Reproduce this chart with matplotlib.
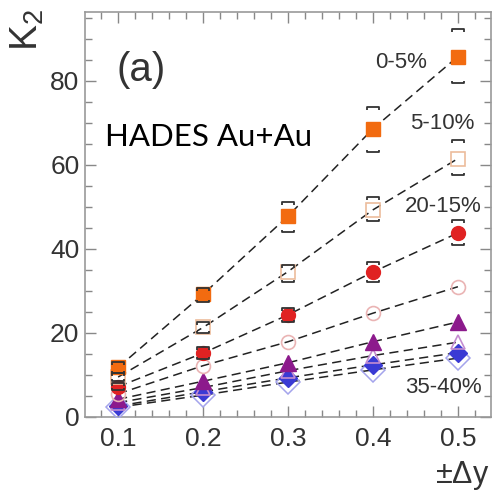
import numpy as np
import matplotlib
matplotlib.use('Agg')
import matplotlib.pyplot as plt
from matplotlib.path import Path
from matplotlib.ticker import MultipleLocator

plt.rcParams['font.family'] = ['Liberation Sans', 'DejaVu Sans']

# rapidity window half-widths
dy = [0.1, 0.2, 0.3, 0.4, 0.5]

# K2 per centrality class
k2_0_5 = [11.8, 29.2, 47.8, 68.6, 85.8]
k2_5_10 = [9.5, 21.3, 34.6, 49.3, 61.5]
k2_10_15 = [7.2, 15.2, 24.3, 34.5, 43.8]
k2_15_20 = [5.5, 12.2, 17.9, 24.7, 31.0]
k2_20_25 = [4.2, 8.5, 12.9, 17.9, 22.6]
k2_25_30 = [3.4, 7.0, 11.0, 14.6, 17.8]
k2_30_35 = [2.6, 6.0, 9.3, 12.4, 15.3]
k2_35_40 = [2.3, 5.2, 8.3, 11.2, 14.0]

# systematic uncertainty brackets (lower, upper)
sys_0_5_lo = [10.5, 27.4, 44.0, 63.0, 79.5]
sys_0_5_hi = [13.0, 30.7, 51.2, 73.8, 92.4]
sys_5_10_lo = [8.6, 20.0, 32.1, 46.6, 57.6]
sys_5_10_hi = [10.4, 22.6, 36.2, 52.4, 66.0]
sys_10_15_lo = [6.5, 13.9, 22.6, 32.1, 41.0]
sys_10_15_hi = [8.0, 16.7, 26.0, 36.9, 46.9]

labels = ['0-5%', '5-10%', '20-15%', '35-40%']
label_x = [0.4635, 0.52, 0.528, 0.528]
label_y = [84.3, 69.9, 50.0, 7.1]

series = [
    (k2_0_5, dict(marker='s', ms=10, mfc='#f26b10', mec='#f26b10')),
    (k2_5_10, dict(marker='s', ms=10, mfc='none', mec='#ecbc9c', mew=1.2)),
    (k2_10_15, dict(marker='o', ms=10, mfc='#e02222', mec='#e02222')),
    (k2_15_20, dict(marker='o', ms=10, mfc='none', mec='#eab4b4', mew=1.2)),
    (k2_20_25, dict(marker='^', ms=11, mfc='#8c1a8c', mec='#8c1a8c')),
    (k2_25_30, dict(marker='^', ms=10, mfc='none', mec='#c48cd0', mew=1.2)),
    (k2_30_35, dict(marker='D', ms=9, mfc='#3a3ad4', mec='#3a3ad4')),
    (k2_35_40, dict(marker='D', ms=12, mfc='none', mec='#a4a4ec', mew=1.1)),
]

top_cap = Path([(-1, -0.4), (-1, 0), (1, 0), (1, -0.4)],
               [Path.MOVETO, Path.LINETO, Path.LINETO, Path.LINETO])
bot_cap = Path([(-1, 0.4), (-1, 0), (1, 0), (1, 0.4)],
               [Path.MOVETO, Path.LINETO, Path.LINETO, Path.LINETO])

fig = plt.figure(figsize=(4.93, 4.94), dpi=100)
ax = fig.add_axes([0.1724, 0.156, 0.8236, 0.8197])

# dashed guide lines first, markers on top
for vals, _ in series:
    ax.plot(dy, vals, ls=(0, (6, 3.5)), color='#222222', lw=1.1, zorder=2)
for vals, style in series[::-1]:
    ax.plot(dy, vals, ls='none', zorder=3, **style)

for lo, hi in [(sys_0_5_lo, sys_0_5_hi), (sys_5_10_lo, sys_5_10_hi),
               (sys_10_15_lo, sys_10_15_hi)]:
    ax.plot(dy, hi, ls='none', marker=top_cap, ms=9, mfc='none',
            mec='#333333', mew=1.3, zorder=4)
    ax.plot(dy, lo, ls='none', marker=bot_cap, ms=9, mfc='none',
            mec='#333333', mew=1.3, zorder=4)

ax.set_xlim(0.061, 0.539)
ax.set_ylim(0, 96.4)
ax.set_xticks(dy)
ax.set_xticklabels(['0.1', '0.2', '0.3', '0.4', '0.5'])
ax.set_yticks([0, 20, 40, 60, 80])
ax.xaxis.set_minor_locator(MultipleLocator(0.02))
ax.yaxis.set_minor_locator(MultipleLocator(5))
ax.tick_params(which='both', direction='in', top=True, right=True,
               color='#888888', labelsize=19, labelcolor='#333333')
ax.tick_params(which='major', length=8, width=1)
ax.tick_params(which='minor', length=5, width=1)
ax.tick_params(axis='x', pad=7)
ax.tick_params(axis='y', pad=4)
for sp in ax.spines.values():
    sp.set_color('#999999')
    sp.set_linewidth(1.2)

for txt, x, y in zip(labels, label_x, label_y):
    ax.text(x, y, txt, ha='right', va='center', fontsize=16, color='#333333')

ax.text(0.127, 82.6, '(a)', ha='center', va='center', fontsize=29, color='#333333')
ax.text(0.049, 0.669, 'HADES Au+Au', transform=ax.transAxes, fontsize=22.5,
        family=['Lato', 'DejaVu Sans'], color='black', va='baseline')

fig.text(27 / 493, 1 - 30 / 494, r'$\mathregular{K_2}$', rotation=90,
         ha='center', va='center', fontsize=28, color='#333333')
fig.text(489 / 493, 1 - 483 / 494, r'$\mathregular{\pm\Delta y}$', ha='right',
         va='baseline', fontsize=22, color='#333333')

fig.savefig('out.png', dpi=100)
